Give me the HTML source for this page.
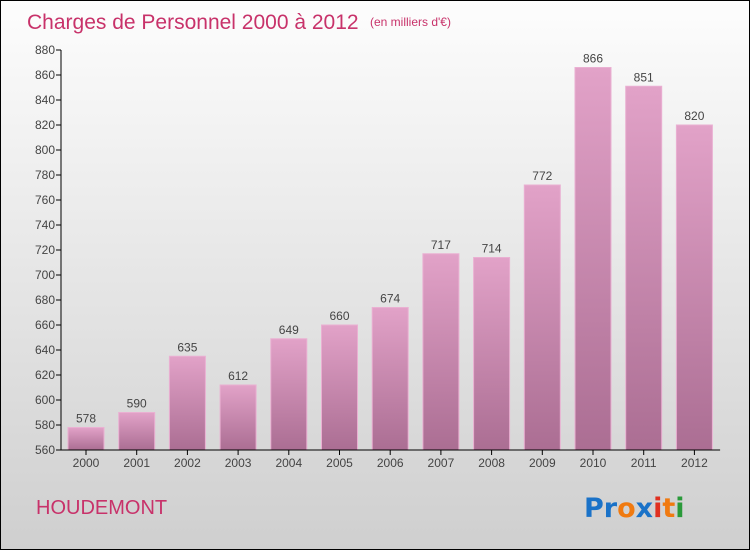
<!DOCTYPE html>
<html><head><meta charset="utf-8"><style>
body{margin:0}
#c{position:relative;width:748px;height:548px;border:1px solid #000;background:linear-gradient(#fdfdfd,#cfcfcf);font-family:"Liberation Sans",sans-serif;overflow:hidden}
</style></head><body>
<div id="c">
<svg width="748" height="548" id="s">
<defs><linearGradient id="g" x1="0" y1="0" x2="0" y2="1"><stop offset="0" stop-color="#e2a2c8"/><stop offset="1" stop-color="#ab6e93"/></linearGradient></defs>
<text x="26" y="28" font-size="21" fill="#c8326a">Charges de Personnel 2000 à 2012</text>
<text x="369" y="25" font-size="12" fill="#c8326a">(en milliers d'€)</text>
<text x="35" y="513" font-size="20" fill="#c8326a">HOUDEMONT</text>
<g font-size="27" font-weight="bold" font-family="'DejaVu Sans',sans-serif">
<text x="583" y="516"><tspan fill="#1a72c8">Pr</tspan><tspan fill="#f07a10">o</tspan><tspan fill="#1a72c8">x</tspan><tspan fill="#e03020">i</tspan><tspan fill="#f07a10">t</tspan><tspan fill="#2a9a3a">i</tspan></text></g>
<g id="plot"></g>
</svg></div>
<script>
const categories=["2000","2001","2002","2003","2004","2005","2006","2007","2008","2009","2010","2011","2012"];
const values=[578,590,635,612,649,660,674,717,714,772,866,851,820];
const ticks=[560,580,600,620,640,660,680,700,720,740,760,780,800,820,840,860,880];
const NS="http://www.w3.org/2000/svg",p=document.getElementById("plot");
const x0=60,band=50.7,y=v=>449-(v-560)*1.25;
function mk(t,a,par){const e=document.createElementNS(NS,t);for(const k in a)e.setAttribute(k,a[k]);(par||p).appendChild(e);return e;}
ticks.forEach(t=>{
 const l=mk("line",{x1:x0-5,x2:x0,y1:y(t),y2:y(t),stroke:"#000"});
 
 
 const tx=mk("text",{x:x0-6,y:y(t)+4,"font-size":12,"text-anchor":"end",fill:"#444"});tx.textContent=t;
 
 
});
categories.forEach((c,i)=>{
 const v=values[i],bx=x0+band*i+7;
 const r=mk("rect",{x:bx,y:y(v),width:36,height:y(560)-y(v),fill:"url(#g)",stroke:"#eab0d2","stroke-width":1});
 
 
 const vl=mk("text",{x:bx+18,y:y(v)-5,"font-size":12,"text-anchor":"middle",fill:"#444"});vl.textContent=v;
 
 
 const tk=mk("line",{x1:bx+18,x2:bx+18,y1:449,y2:454,stroke:"#000"});
 
 
 const xl=mk("text",{x:bx+18,y:466,"font-size":12,"text-anchor":"middle",fill:"#444"});xl.textContent=c;
 
 
});
const ya=mk("line",{x1:x0,x2:x0,y1:y(880),y2:449,stroke:"#000"});


const xa=mk("line",{x1:x0,x2:x0+band*13,y1:449,y2:449,stroke:"#000"});


</script>
</body></html>
